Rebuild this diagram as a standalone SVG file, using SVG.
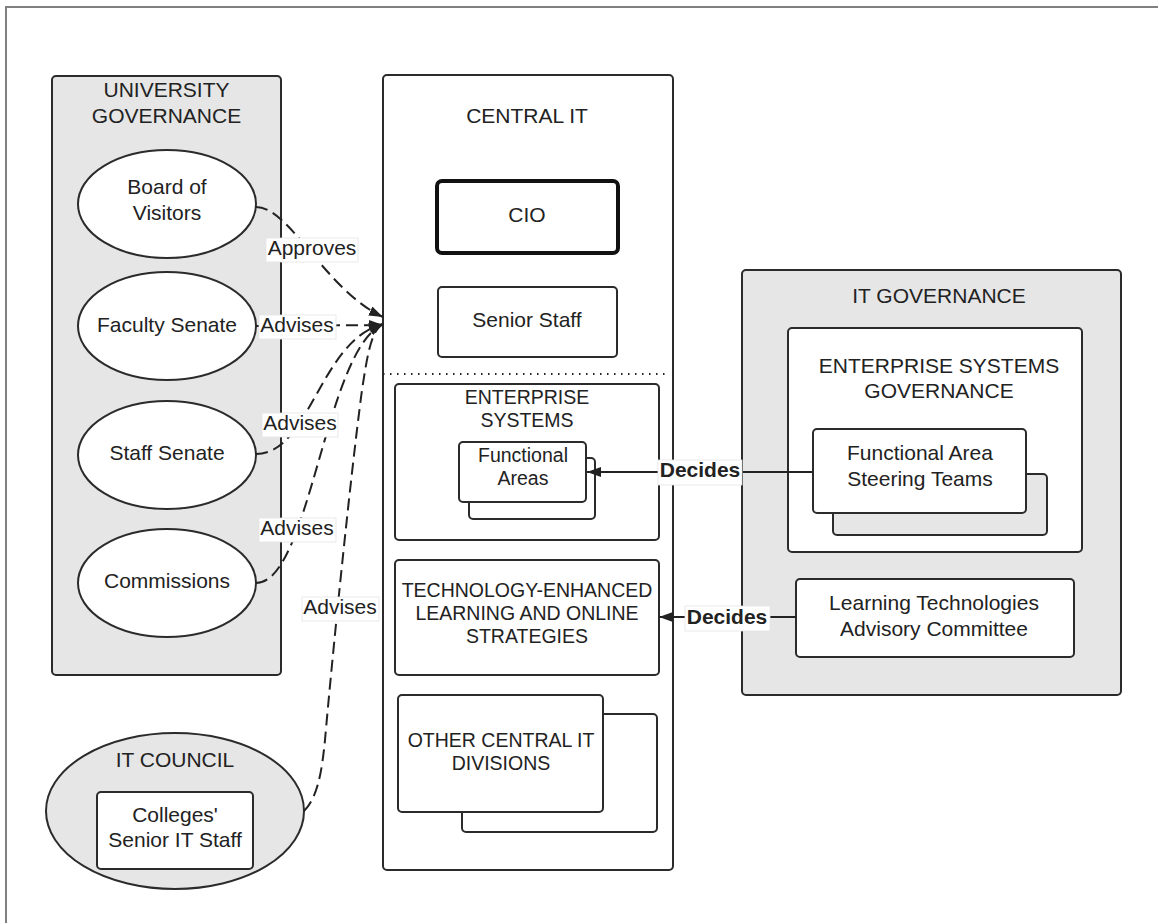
<svg xmlns="http://www.w3.org/2000/svg" width="1158" height="923" viewBox="0 0 1158 923">
<style>
text { font-family: "Liberation Sans", Arial, sans-serif; fill: #222; text-anchor: middle; font-size: 21px; }
.s19 { font-size: 19.5px; }
.b { font-weight: bold; }
.box { stroke: #2b2b2b; stroke-width: 2; }
.gray { fill: #e6e6e6; }
.white { fill: #fff; }
.dash { fill: none; stroke: #222; stroke-width: 2; stroke-dasharray: 12 6; }
.solid { fill: none; stroke: #222; stroke-width: 2; }
.lbl { fill: #fff; stroke: #e4e4e4; stroke-width: 0.8; }
</style>
<defs>
<marker id="arr" viewBox="0 0 14 10" refX="14" refY="5" markerWidth="14" markerHeight="10" orient="auto" markerUnits="userSpaceOnUse">
<path d="M0,0 L14,5 L0,10 z" fill="#222"/>
</marker>
</defs>
<rect width="1158" height="923" fill="#fff"/>
<path d="M6,923 V7 H1158" fill="none" stroke="#808080" stroke-width="2"/>

<g id="university-governance">
<rect class="box gray" x="52" y="76" width="229" height="599" rx="4"/>
<text x="166.5" y="97">UNIVERSITY</text>
<text x="166.5" y="123">GOVERNANCE</text>
</g>
<g id="board-of-visitors">
<ellipse class="box white" cx="167" cy="204" rx="89" ry="54"/>
<text x="167" y="194">Board of</text>
<text x="167" y="220">Visitors</text>
</g>
<g id="faculty-senate">
<ellipse class="box white" cx="167" cy="326" rx="89" ry="54"/>
<text x="167" y="332">Faculty Senate</text>
</g>
<g id="staff-senate">
<ellipse class="box white" cx="167" cy="455" rx="89" ry="54"/>
<text x="167" y="460">Staff Senate</text>
</g>
<g id="commissions">
<ellipse class="box white" cx="167" cy="583" rx="89" ry="54"/>
<text x="167" y="588">Commissions</text>
</g>

<g id="it-council">
<ellipse class="box gray" cx="175" cy="811" rx="129" ry="78"/>
<text x="175" y="767">IT COUNCIL</text>
</g>
<g id="colleges-senior-it-staff">
<rect class="box white" x="97" y="792" width="156" height="77" rx="4"/>
<text x="175" y="822">Colleges'</text>
<text x="175" y="847">Senior IT Staff</text>
</g>

<g id="central-it">
<rect class="box white" x="383" y="75" width="290" height="795" rx="4"/>
<text x="527" y="123">CENTRAL IT</text>
<line x1="383" y1="374" x2="666" y2="374" stroke="#222" stroke-width="2" stroke-dasharray="1.5 5.5"/>
</g>
<g id="cio">
<rect x="437" y="181" width="181" height="72" rx="5" fill="#fff" stroke="#111" stroke-width="4"/>
<text x="527" y="222">CIO</text>
</g>
<g id="senior-staff">
<rect class="box white" x="438" y="287" width="179" height="70" rx="4"/>
<text x="527" y="327">Senior Staff</text>
</g>
<g id="enterprise-systems">
<rect class="box white" x="395" y="384" width="264" height="156" rx="4"/>
<text class="s19" x="527" y="404">ENTERPRISE</text>
<text class="s19" x="527" y="427">SYSTEMS</text>
</g>
<g id="functional-areas">
<rect class="box white" x="469" y="458" width="126" height="61" rx="4"/>
<rect class="box white" x="459" y="442" width="127" height="60" rx="4"/>
<text class="s19" x="523" y="462">Functional</text>
<text class="s19" x="523" y="485">Areas</text>
</g>
<g id="tel-online-strategies">
<rect class="box white" x="395" y="560" width="264" height="115" rx="4"/>
<text class="s19" x="527" y="597">TECHNOLOGY-ENHANCED</text>
<text class="s19" x="527" y="620">LEARNING AND ONLINE</text>
<text class="s19" x="527" y="643">STRATEGIES</text>
</g>
<g id="other-central-it-divisions">
<rect class="box white" x="462" y="714" width="195" height="118" rx="4"/>
<rect class="box white" x="398" y="695" width="205" height="117" rx="4"/>
<text class="s19" x="501" y="747">OTHER CENTRAL IT</text>
<text class="s19" x="501" y="770">DIVISIONS</text>
</g>

<g id="it-governance">
<rect class="box gray" x="742" y="270" width="379" height="425" rx="4"/>
<text x="939" y="303">IT GOVERNANCE</text>
</g>
<g id="enterprise-systems-governance">
<rect class="box white" x="788" y="328" width="294" height="224" rx="4"/>
<text x="939" y="373">ENTERPRISE SYSTEMS</text>
<text x="939" y="398">GOVERNANCE</text>
</g>
<g id="functional-area-steering-teams">
<rect class="box gray" x="833" y="474" width="214" height="61" rx="4"/>
<rect class="box white" x="813" y="429" width="213" height="84" rx="4"/>
<text x="920" y="460">Functional Area</text>
<text x="920" y="486">Steering Teams</text>
</g>
<g id="learning-technologies-advisory-committee">
<rect class="box white" x="796" y="579" width="278" height="78" rx="4"/>
<text x="934" y="610">Learning Technologies</text>
<text x="934" y="636">Advisory Committee</text>
</g>

<g id="connectors">
<path class="dash" d="M256,207 C290,207 325,290 383,317" marker-end="url(#arr)"/>
<path class="dash" d="M256,326 L383,325" marker-end="url(#arr)"/>
<path class="dash" d="M256,454 C310,454 320,340 383,324" marker-end="url(#arr)"/>
<path class="dash" d="M256,583 C310,583 325,350 383,324" marker-end="url(#arr)"/>
<path class="dash" d="M304,811 C318,797 322,770 325,740 C332,660 350,480 362,390 C368,350 372,330 383,324" marker-end="url(#arr)"/>
<path class="solid" d="M813,472 L587,472" marker-end="url(#arr)"/>
<path class="solid" d="M796,617 L659,617" marker-end="url(#arr)"/>

<rect class="lbl" x="266" y="238" width="92" height="24"/>
<text x="312" y="255">Approves</text>
<rect class="lbl" x="259" y="315" width="77" height="24"/>
<text x="297" y="332">Advises</text>
<rect class="lbl" x="262" y="413" width="76" height="24"/>
<text x="300" y="430">Advises</text>
<rect class="lbl" x="259" y="518" width="77" height="24"/>
<text x="297" y="535">Advises</text>
<rect class="lbl" x="302" y="597" width="77" height="24"/>
<text x="340" y="614">Advises</text>
<rect class="lbl" x="658" y="460" width="84" height="25"/>
<text class="b" x="700" y="477">Decides</text>
<rect class="lbl" x="685" y="606" width="85" height="25"/>
<text class="b" x="727" y="624">Decides</text>
</g>
</svg>
